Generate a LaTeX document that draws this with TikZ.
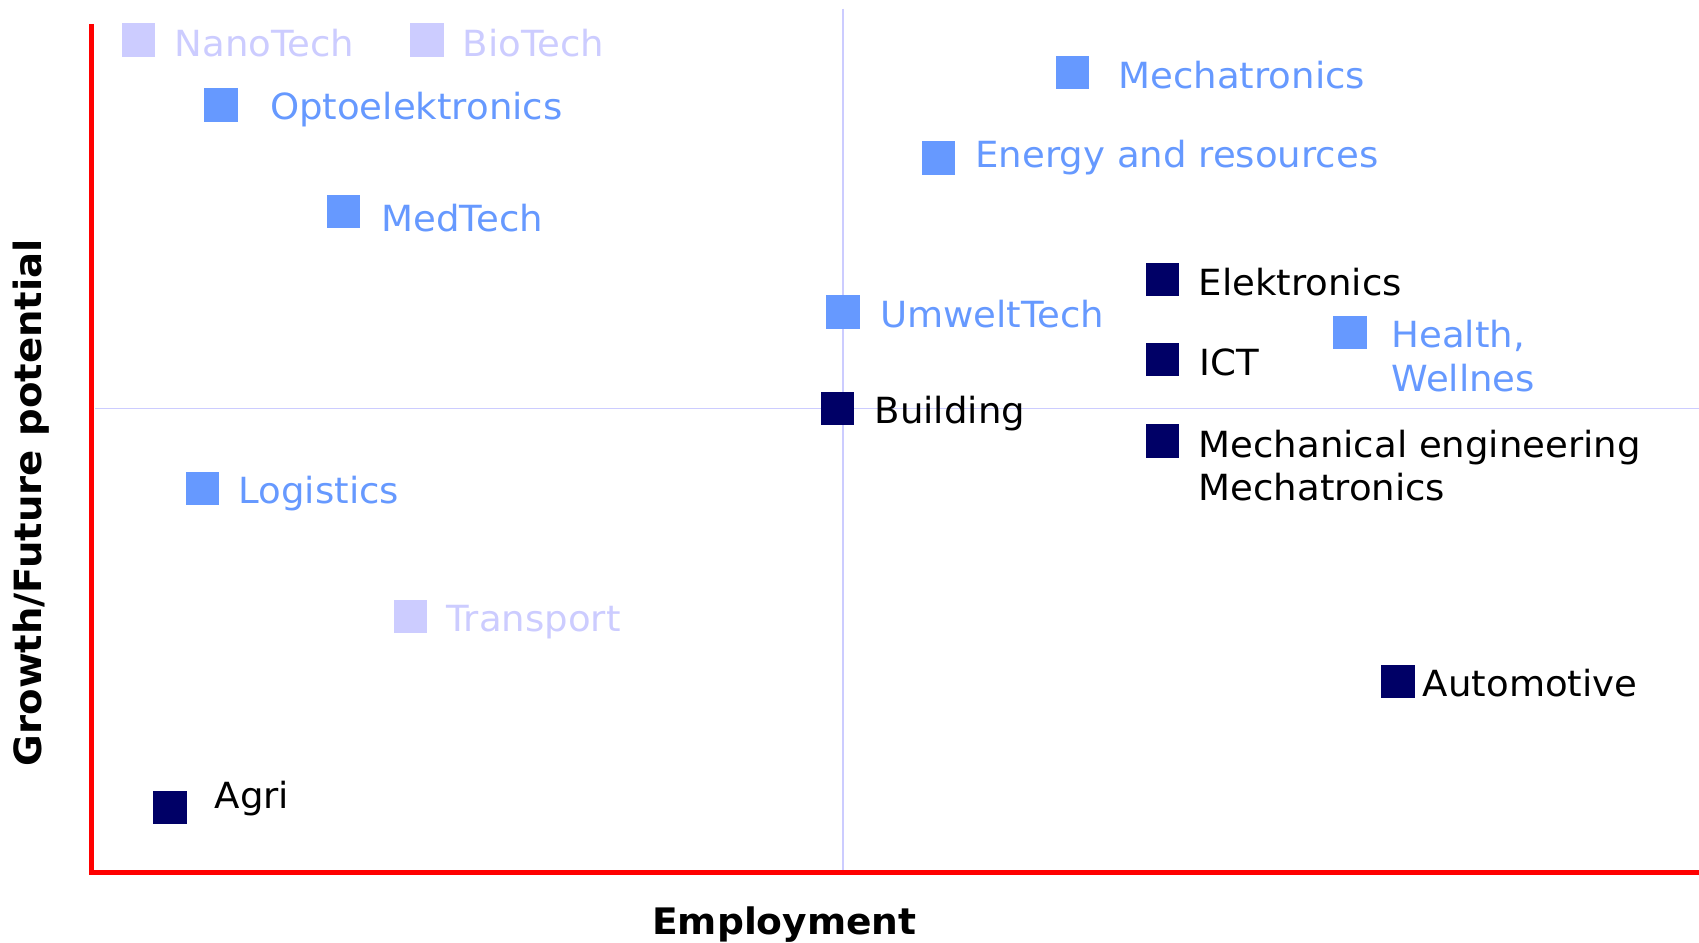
\documentclass[tikz,border=0pt]{standalone}
\usepackage{fontspec}
\setmainfont[FakeStretch=1.03]{DejaVu Sans}
\definecolor{navy}{HTML}{000066}
\definecolor{skyblue}{HTML}{6699FF}
\definecolor{lavender}{HTML}{CCCCFF}
\definecolor{axisred}{HTML}{FF0000}
\begin{document}
\begin{tikzpicture}[x=1.0835pt,y=-1.0835pt,
  mk/.style={inner sep=0pt, minimum size=33.5pt, draw=none},
  lbl/.style={inner sep=0pt, anchor=base west, font=\fontsize{36}{43.5}\selectfont, align=left},
  axlbl/.style={inner sep=0pt, anchor=base, font=\bfseries\fontsize{36}{43}\selectfont},
  grid line/.style={draw=lavender, line width=1.5pt},
  axis line/.style={draw=axisred, line width=5pt},
]
\useasboundingbox (0,0) rectangle (1568,870);
% grid lines
\coordinate (vtop) at (778,8);
\coordinate (vbot) at (778,805);
\coordinate (hleft) at (88,377);
\coordinate (hright) at (1568,377);
\draw[grid line] (vtop) -- (vbot);
\draw[grid line] (hleft) -- (hright);
% axes
\coordinate (origin) at (84.4,805.3);
\coordinate (ytop) at (84.4,22);
\coordinate (xend) at (1568,805.3);
\draw[axis line] (ytop) -- (origin) -- (xend);
% markers and labels
\node[mk, fill=lavender] (sNano) at (128,37) {};
\node[lbl, text=lavender] (tNano) at (161,52) {NanoTech};
\node[mk, fill=lavender] (sBio) at (394,37) {};
\node[lbl, text=lavender] (tBio) at (427,52) {BioTech};
\node[mk, fill=skyblue] (sOpto) at (204,97) {};
\node[lbl, text=skyblue] (tOpto) at (249,110) {Optoelektronics};
\node[mk, fill=skyblue] (sMed) at (317,195) {};
\node[lbl, text=skyblue] (tMed) at (352,214) {MedTech};
\node[mk, fill=skyblue] (sMecha) at (990,67) {};
\node[lbl, text=skyblue] (tMecha) at (1032,82) {Mechatronics};
\node[mk, fill=skyblue] (sEnergy) at (866,146) {};
\node[lbl, text=skyblue] (tEnergy) at (900,155) {Energy and resources};
\node[mk, fill=navy] (sElek) at (1073,258) {};
\node[lbl, text=black] (tElek) at (1106,273) {Elektronics};
\node[mk, fill=skyblue] (sUmwelt) at (778,288) {};
\node[lbl, text=skyblue] (tUmwelt) at (812,302) {UmweltTech};
\node[mk, fill=navy] (sICT) at (1073,332) {};
\node[lbl, text=black] (tICT) at (1107,347) {ICT};
\node[mk, fill=skyblue] (sHealth) at (1246,307) {};
\node[lbl, text=skyblue] (tHealth) at (1284,361) {Health,\\Wellnes};
\node[mk, fill=navy] (sBuild) at (773,377) {};
\node[lbl, text=black] (tBuild) at (807,391) {Building};
\node[mk, fill=navy] (sMech) at (1073,407) {};
\node[lbl, text=black] (tMech) at (1106,462) {Mechanical engineering\\Mechatronics};
\node[mk, fill=skyblue] (sLog) at (187,451) {};
\node[lbl, text=skyblue] (tLog) at (220,465) {Logistics};
\node[mk, fill=lavender] (sTrans) at (379,569) {};
\node[lbl, text=lavender] (tTrans) at (412,583) {Transport};
\node[mk, fill=navy] (sAuto) at (1290,629) {};
\node[lbl, text=black] (tAuto) at (1313,643) {Automotive};
\node[mk, fill=navy] (sAgri) at (157,745) {};
\node[lbl, text=black] (tAgri) at (198,746) {Agri};
% axis labels
\node[axlbl, font=\bfseries\fontsize{36.5}{43}\selectfont] (xlab) at (724,862) {Employment};
\node[axlbl, font=\bfseries\fontsize{37.5}{43}\selectfont, rotate=90] (ylab) at (38,464) {Growth/Future potential};
\end{tikzpicture}
\end{document}
